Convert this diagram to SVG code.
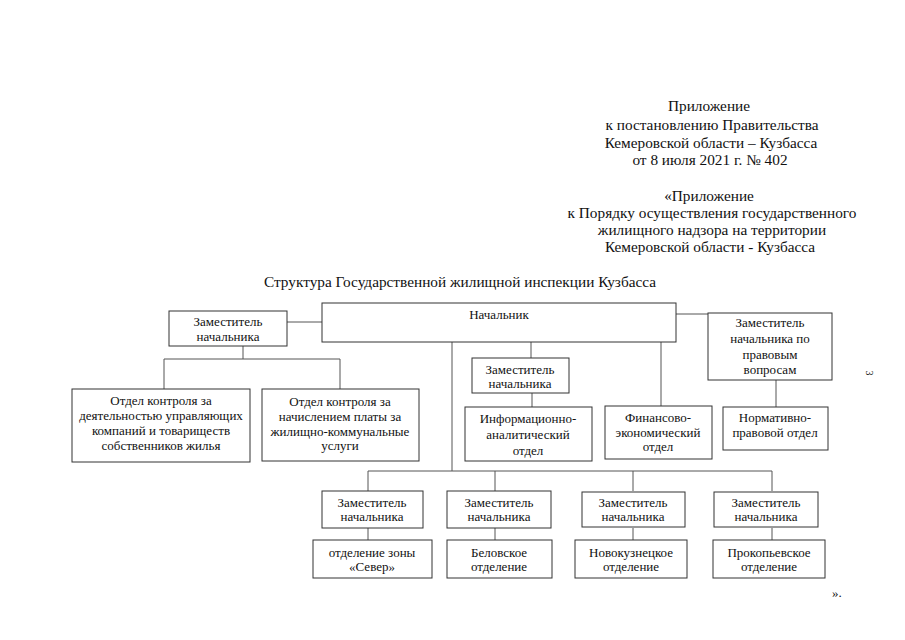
<svg xmlns="http://www.w3.org/2000/svg" width="905" height="640" viewBox="0 0 905 640" font-family="'Liberation Serif', 'DejaVu Serif', serif">
<style>
text{font-family:'Liberation Serif','DejaVu Serif',serif;fill:#111}
.h{font-size:15.3px;text-anchor:middle}
.b{font-size:13px;text-anchor:middle}
.box{fill:#fff;stroke:#333;stroke-width:1}
.c{fill:none;stroke:#555;stroke-width:1}
</style>
<rect width="905" height="640" fill="#fff"/>
<g id="header">
<text class="h" x="709" y="111">Приложение</text>
<text class="h" x="712" y="130">к  постановлению Правительства</text>
<text class="h" x="711" y="148">Кемеровской области – Кузбасса</text>
<text class="h" x="710" y="165">от 8 июля 2021 г. № 402</text>
<text class="h" x="709" y="201">«Приложение</text>
<text class="h" x="712" y="218">к Порядку  осуществления государственного</text>
<text class="h" x="712" y="235">жилищного надзора на территории</text>
<text class="h" x="710" y="252">Кемеровской области - Кузбасса</text>
<text class="h" x="460" y="287">Структура Государственной жилищной инспекции Кузбасса</text>
</g>
<g id="connectors">
<path class="c" d="M287 322H322"/>
<path class="c" d="M243 346V359M164 359H340M164 359V389M340 359V389"/>
<path class="c" d="M452 342V471M368 471H772M368 471V491M495 471V491M633 471V491M772 471V491"/>
<path class="c" d="M531 342V358M532 393V407"/>
<path class="c" d="M661 342V406"/>
<path class="c" d="M676 314H708M776 380V407"/>
<path class="c" d="M368 528V540M495 528V540M633 528V540M772 528V540"/>
</g>
<g id="n-head"><rect class="box" x="322" y="303" width="354" height="39"/><text class="b" x="499" y="319">Начальник</text></g>
<g id="n-dep-left"><rect class="box" x="169" y="311" width="118" height="35"/><text class="b" x="228" y="326">Заместитель</text><text class="b" x="228" y="341">начальника</text></g>
<g id="n-otdel1"><rect class="box" x="72" y="389" width="178" height="73"/><text class="b" x="161" y="405">Отдел контроля за</text><text class="b" x="161" y="420">деятельностью управляющих</text><text class="b" x="161" y="435">компаний и товариществ</text><text class="b" x="161" y="450">собственников жилья</text></g>
<g id="n-otdel2"><rect class="box" x="262" y="389" width="157" height="72"/><text class="b" x="340" y="406">Отдел контроля за</text><text class="b" x="340" y="421">начислением платы за</text><text class="b" x="340" y="436">жилищно-коммунальные</text><text class="b" x="340" y="450">услуги</text></g>
<g id="n-dep-mid"><rect class="box" x="472" y="358" width="97" height="35"/><text class="b" x="520" y="374">Заместитель</text><text class="b" x="520" y="388">начальника</text></g>
<g id="n-info"><rect class="box" x="465" y="407" width="127" height="54"/><text class="b" x="528" y="423">Информационно-</text><text class="b" x="528" y="439">аналитический</text><text class="b" x="528" y="455">отдел</text></g>
<g id="n-fin"><rect class="box" x="605" y="406" width="107" height="53"/><text class="b" x="658" y="422">Финансово-</text><text class="b" x="658" y="437">экономический</text><text class="b" x="658" y="451">отдел</text></g>
<g id="n-dep-law"><rect class="box" x="708" y="313" width="124" height="67"/><text class="b" x="770" y="327">Заместитель</text><text class="b" x="770" y="343">начальника по</text><text class="b" x="770" y="359">правовым</text><text class="b" x="770" y="374">вопросам</text></g>
<g id="n-norm"><rect class="box" x="723" y="407" width="105" height="43"/><text class="b" x="775" y="422">Нормативно-</text><text class="b" x="775" y="437">правовой отдел</text></g>
<g id="n-dep1"><rect class="box" x="322" y="491" width="101" height="37"/><text class="b" x="372" y="507">Заместитель</text><text class="b" x="372" y="521">начальника</text></g>
<g id="n-dep2"><rect class="box" x="447" y="491" width="104" height="37"/><text class="b" x="499" y="507">Заместитель</text><text class="b" x="499" y="521">начальника</text></g>
<g id="n-dep3"><rect class="box" x="582" y="492" width="103" height="35"/><text class="b" x="633" y="507">Заместитель</text><text class="b" x="633" y="521">начальника</text></g>
<g id="n-dep4"><rect class="box" x="714" y="492" width="104" height="35"/><text class="b" x="766" y="507">Заместитель</text><text class="b" x="766" y="521">начальника</text></g>
<g id="n-sever"><rect class="box" x="313" y="540" width="119" height="38"/><text class="b" x="372" y="557">отделение  зоны</text><text class="b" x="372" y="571">«Север»</text></g>
<g id="n-belovo"><rect class="box" x="447" y="540" width="105" height="38"/><text class="b" x="499" y="557">Беловское</text><text class="b" x="499" y="571">отделение</text></g>
<g id="n-nkz"><rect class="box" x="575" y="540" width="112" height="38"/><text class="b" x="631" y="557">Новокузнецкое</text><text class="b" x="631" y="571">отделение</text></g>
<g id="n-prk"><rect class="box" x="713" y="540" width="112" height="38"/><text class="b" x="769" y="557">Прокопьевское</text><text class="b" x="769" y="571">отделение</text></g>
<text x="866" y="373" transform="rotate(90 866 373)" text-anchor="middle" style="font-size:10px">3</text>
<text x="832" y="597" style="font-size:13px">».</text>
</svg>
